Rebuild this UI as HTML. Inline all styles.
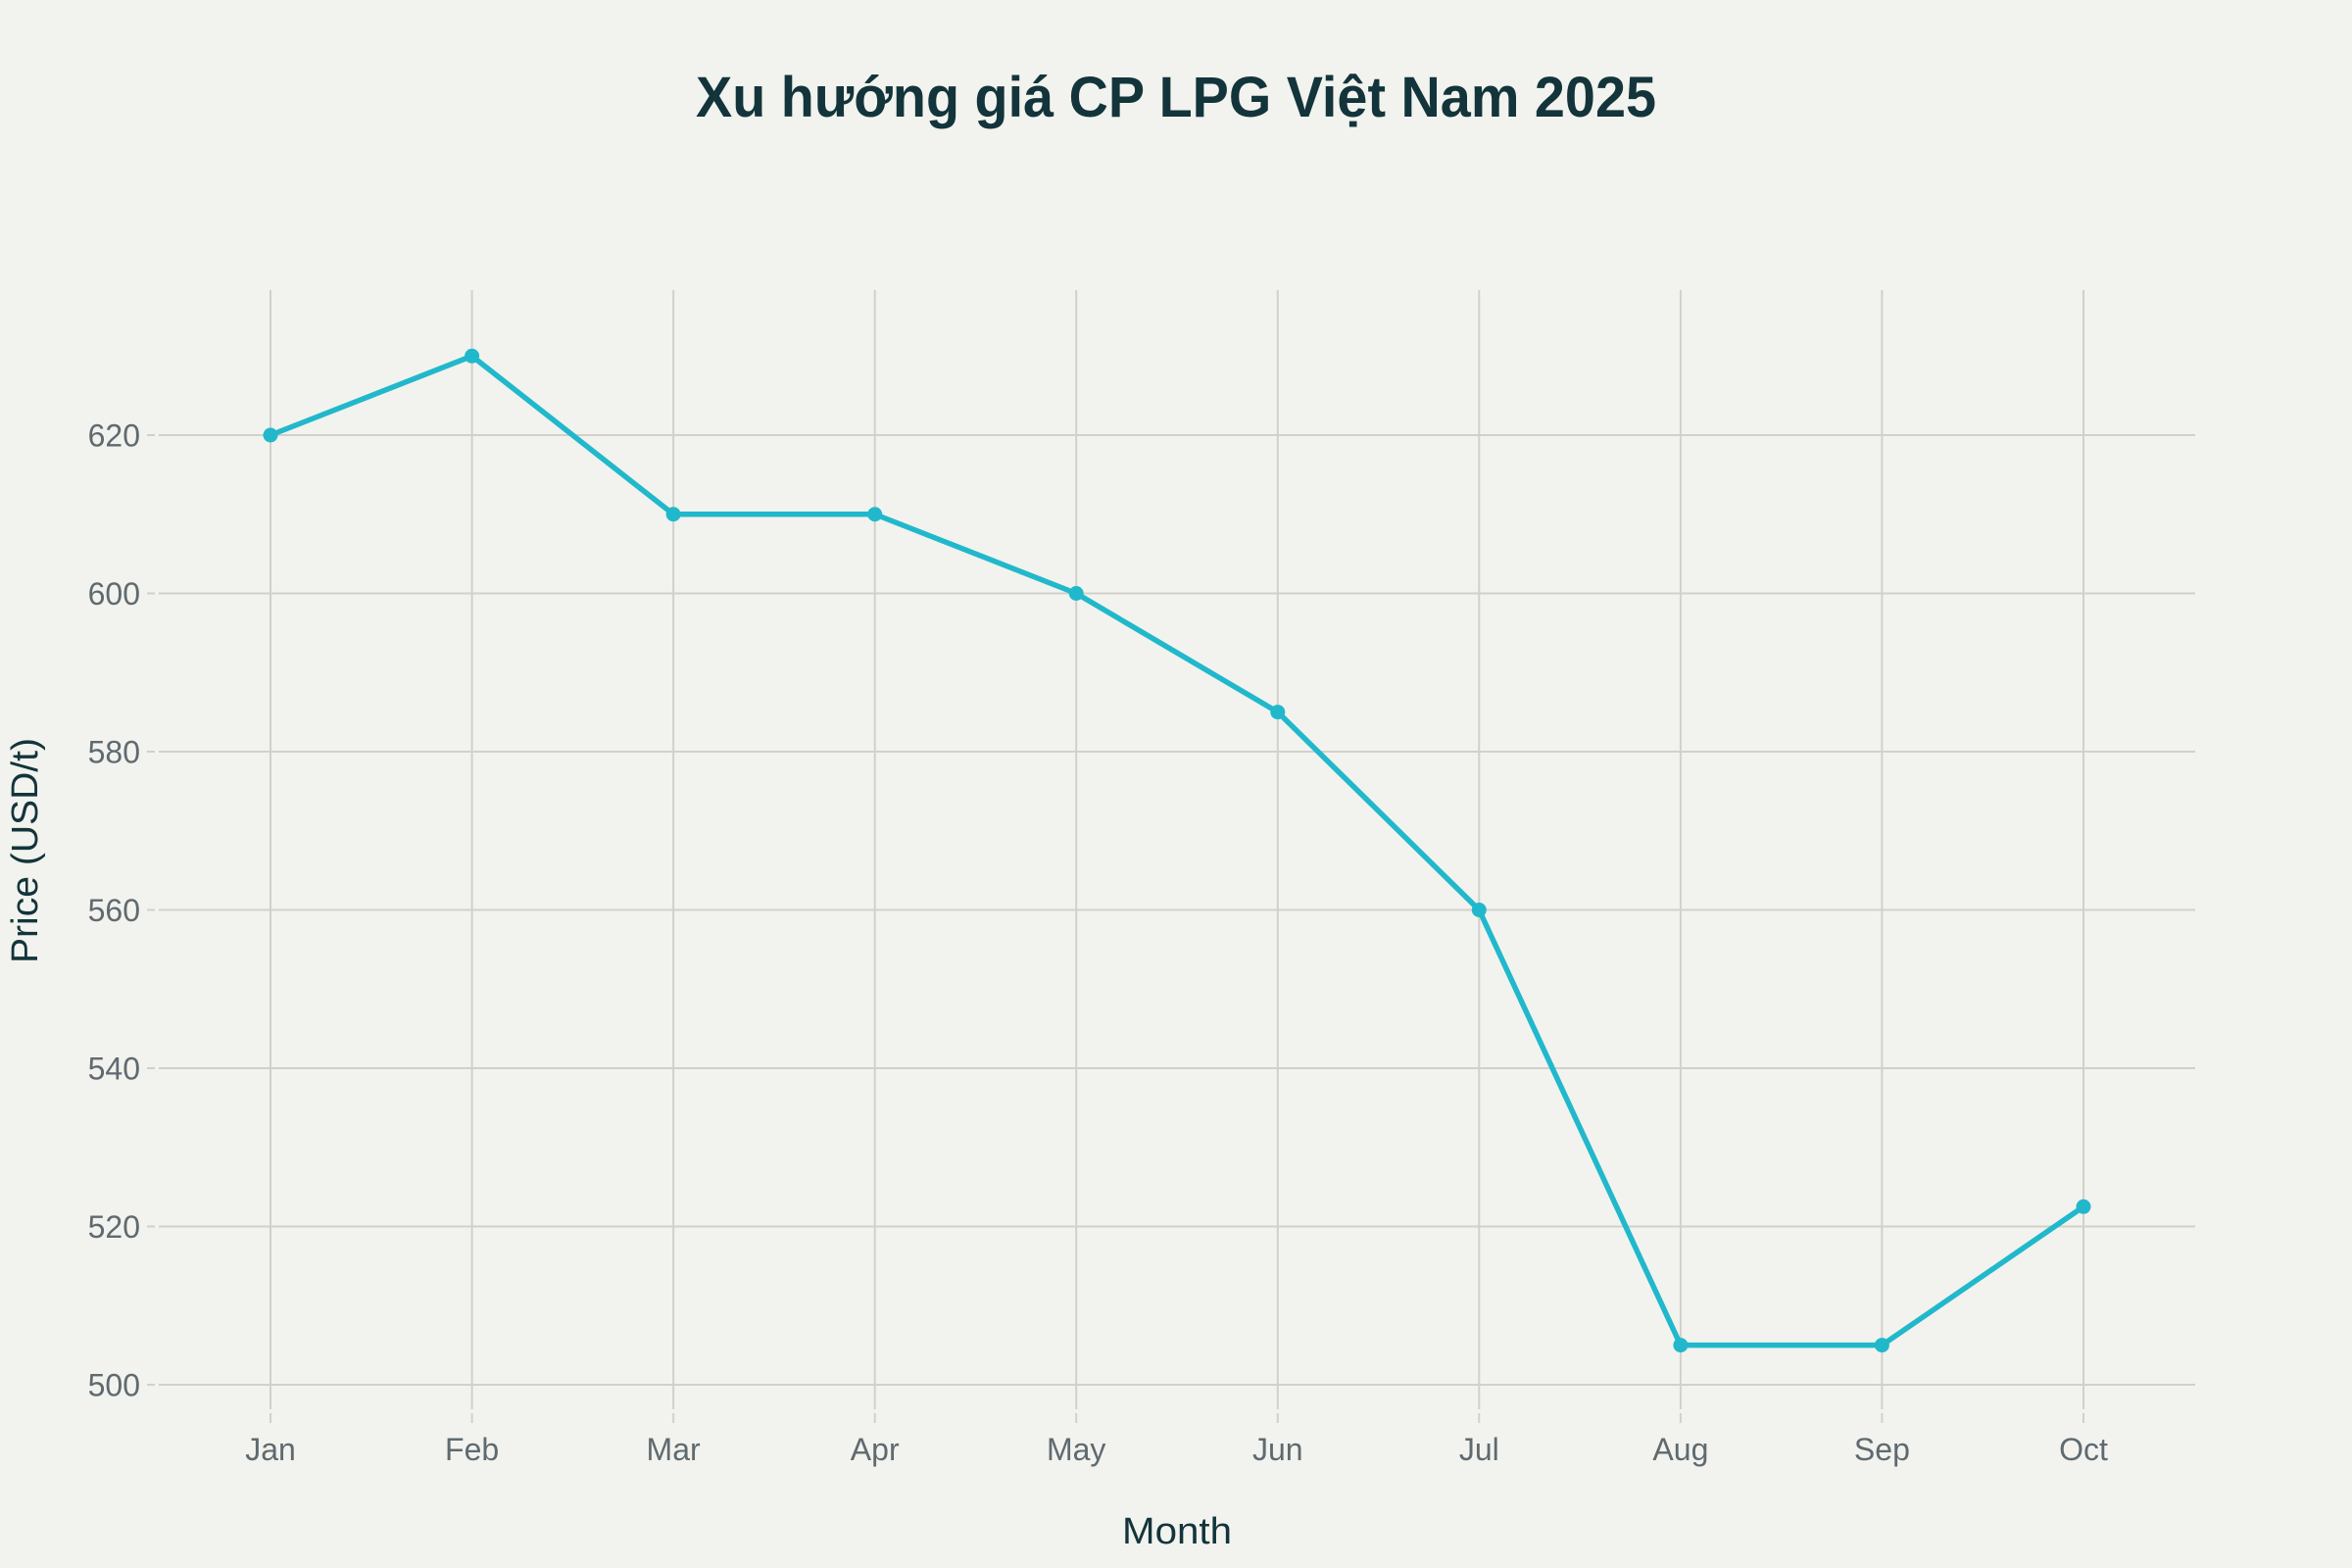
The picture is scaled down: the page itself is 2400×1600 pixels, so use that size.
<!DOCTYPE html>
<html><head><meta charset="utf-8"><style>html,body{margin:0;padding:0;background:#f2f3ee}</style></head>
<body>
<svg width="2400" height="1600" xmlns="http://www.w3.org/2000/svg" style="display:block">
<rect width="2400" height="1600" fill="#f2f3ee"/>
<g stroke="#d2d0cb" stroke-width="2">
<line x1="162" y1="444" x2="2240" y2="444"/>
<line x1="162" y1="605.5" x2="2240" y2="605.5"/>
<line x1="162" y1="767" x2="2240" y2="767"/>
<line x1="162" y1="928.5" x2="2240" y2="928.5"/>
<line x1="162" y1="1090" x2="2240" y2="1090"/>
<line x1="162" y1="1251.5" x2="2240" y2="1251.5"/>
<line x1="162" y1="1413" x2="2240" y2="1413"/>
<g id="v">
<line x1="276" y1="296" x2="276" y2="1438"/><line x1="481.6" y1="296" x2="481.6" y2="1438"/><line x1="687.1" y1="296" x2="687.1" y2="1438"/><line x1="892.7" y1="296" x2="892.7" y2="1438"/><line x1="1098.2" y1="296" x2="1098.2" y2="1438"/><line x1="1303.8" y1="296" x2="1303.8" y2="1438"/><line x1="1509.3" y1="296" x2="1509.3" y2="1438"/><line x1="1714.9" y1="296" x2="1714.9" y2="1438"/><line x1="1920.4" y1="296" x2="1920.4" y2="1438"/><line x1="2126" y1="296" x2="2126" y2="1438"/>
</g>
<g>
<line x1="276" y1="1442" x2="276" y2="1452"/><line x1="481.6" y1="1442" x2="481.6" y2="1452"/><line x1="687.1" y1="1442" x2="687.1" y2="1452"/><line x1="892.7" y1="1442" x2="892.7" y2="1452"/><line x1="1098.2" y1="1442" x2="1098.2" y2="1452"/><line x1="1303.8" y1="1442" x2="1303.8" y2="1452"/><line x1="1509.3" y1="1442" x2="1509.3" y2="1452"/><line x1="1714.9" y1="1442" x2="1714.9" y2="1452"/><line x1="1920.4" y1="1442" x2="1920.4" y2="1452"/><line x1="2126" y1="1442" x2="2126" y2="1452"/>
<line x1="150" y1="444" x2="158" y2="444"/><line x1="150" y1="605.5" x2="158" y2="605.5"/><line x1="150" y1="767" x2="158" y2="767"/><line x1="150" y1="928.5" x2="158" y2="928.5"/><line x1="150" y1="1090" x2="158" y2="1090"/><line x1="150" y1="1251.5" x2="158" y2="1251.5"/><line x1="150" y1="1413" x2="158" y2="1413"/>
</g>
</g>
<g font-family="Liberation Sans, sans-serif" font-size="32" fill="#5f6a70" text-anchor="end">
<text x="143" y="455.5">620</text><text x="143" y="617">600</text><text x="143" y="778.5">580</text><text x="143" y="940">560</text><text x="143" y="1101.5">540</text><text x="143" y="1263">520</text><text x="143" y="1424.5">500</text>
</g>
<g font-family="Liberation Sans, sans-serif" font-size="32" fill="#5f6a70" text-anchor="middle">
<text x="276" y="1490">Jan</text><text x="481.6" y="1490">Feb</text><text x="687.1" y="1490">Mar</text><text x="892.7" y="1490">Apr</text><text x="1098.2" y="1490">May</text><text x="1303.8" y="1490">Jun</text><text x="1509.3" y="1490">Jul</text><text x="1714.9" y="1490">Aug</text><text x="1920.4" y="1490">Sep</text><text x="2126" y="1490">Oct</text>
</g>
<polyline fill="none" stroke="#21b8cc" stroke-width="5.5" stroke-linejoin="round" points="276,444 481.6,363.3 687.1,524.75 892.7,524.75 1098.2,605.5 1303.8,726.6 1509.3,928.5 1714.9,1372.6 1920.4,1372.6 2126,1231.3"/>
<g fill="#21b8cc">
<circle cx="276" cy="444" r="7.5"/><circle cx="481.6" cy="363.3" r="7.5"/><circle cx="687.1" cy="524.75" r="7.5"/><circle cx="892.7" cy="524.75" r="7.5"/><circle cx="1098.2" cy="605.5" r="7.5"/><circle cx="1303.8" cy="726.6" r="7.5"/><circle cx="1509.3" cy="928.5" r="7.5"/><circle cx="1714.9" cy="1372.6" r="7.5"/><circle cx="1920.4" cy="1372.6" r="7.5"/><circle cx="2126" cy="1231.3" r="7.5"/>
</g>
<text x="1200" y="119" text-anchor="middle" font-family="Liberation Sans, sans-serif" font-weight="bold" font-size="58" fill="#13343b" textLength="980" lengthAdjust="spacingAndGlyphs">Xu hướng giá CP LPG Việt Nam 2025</text>
<text x="1201" y="1575" text-anchor="middle" font-family="Liberation Sans, sans-serif" font-size="38" fill="#13343b" textLength="112" lengthAdjust="spacingAndGlyphs">Month</text>
<text transform="translate(38,868) rotate(-90)" text-anchor="middle" font-family="Liberation Sans, sans-serif" font-size="38" fill="#13343b" textLength="230" lengthAdjust="spacingAndGlyphs">Price (USD/t)</text>
</svg>
</body></html>
